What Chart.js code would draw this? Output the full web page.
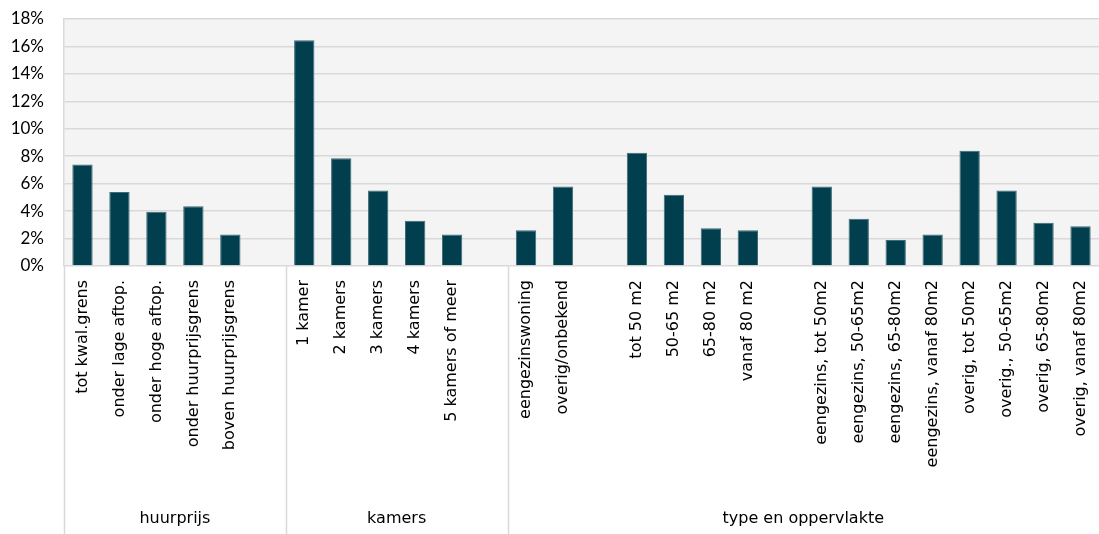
<!DOCTYPE html>
<html>
<head>
<meta charset="utf-8">
<script src="https://cdn.jsdelivr.net/npm/chart.js@4"></script>
<style>
  html, body { margin: 0; padding: 0; background: #fff; }
  #wrap { width: 1099px; height: 534px; }
</style>
</head>
<body>
<div id="wrap"><canvas id="chart"></canvas></div>
<script>
// categorieën (lege labels = ruimte tussen de blokken)
const categories = [
  'tot kwal.grens', 'onder lage aftop.', 'onder hoge aftop.', 'onder huurprijsgrens', 'boven huurprijsgrens', '',
  '1 kamer', '2 kamers', '3 kamers', '4 kamers', '5 kamers of meer', '',
  'eengezinswoning', 'overig/onbekend', '',
  'tot 50 m2', '50-65 m2', '65-80 m2', 'vanaf 80 m2', '',
  'eengezins, tot 50m2', 'eengezins, 50-65m2', 'eengezins, 65-80m2', 'eengezins, vanaf 80m2',
  'overig, tot 50m2', 'overig., 50-65m2', 'overig, 65-80m2', 'overig, vanaf 80m2'
];

// percentages per categorie
const values = [
  7.4, 5.4, 3.95, 4.35, 2.3, null,
  16.45, 7.85, 5.5, 3.3, 2.3, null,
  2.6, 5.8, null,
  8.25, 5.2, 2.75, 2.6, null,
  5.8, 3.45, 1.9, 2.3,
  8.4, 5.5, 3.15, 2.9
];

// groepen onder de as
const groupNames  = ['huurprijs', 'kamers', 'type en oppervlakte'];
const groupStarts = [0, 6, 12];
const groupSizes  = [6, 6, 16];

// y-as
const yMin = 0;
const yMax = 18;
const yStep = 2;

const FONT = 'Lato, "Noto Sans", sans-serif';
const LABEL_FONT = '"DejaVu Sans", sans-serif';

// grijze achtergrond van het plotvlak
const plotBackground = {
  id: 'plotBackground',
  beforeDraw(chart) {
    const { ctx, chartArea } = chart;
    ctx.save();
    ctx.fillStyle = '#f4f4f4';
    ctx.fillRect(chartArea.left, chartArea.top, chartArea.right - chartArea.left, chartArea.bottom - chartArea.top);
    ctx.restore();
  }
};

// scheidingslijnen en groepsnamen onder de x-as
const groupAxis = {
  id: 'groupAxis',
  afterDraw(chart) {
    const { ctx, chartArea } = chart;
    const catW = (chartArea.right - chartArea.left) / categories.length;
    ctx.save();
    ctx.strokeStyle = '#d9d9d9';
    ctx.lineWidth = 1.5;
    ctx.fillStyle = '#000';
    ctx.font = '16px ' + LABEL_FONT;
    ctx.textAlign = 'center';
    ctx.textBaseline = 'middle';
    groupNames.forEach(function (name, i) {
      const left = chartArea.left + groupStarts[i] * catW;
      const right = left + groupSizes[i] * catW;
      ctx.beginPath();
      ctx.moveTo(Math.round(left) + 0.5, chartArea.bottom);
      ctx.lineTo(Math.round(left) + 0.5, chart.height);
      ctx.stroke();
      ctx.fillText(name, (left + right) / 2, 519);
    });
    ctx.restore();
  }
};

new Chart(document.getElementById('chart'), {
  type: 'bar',
  data: {
    labels: categories,
    datasets: [{
      data: values,
      backgroundColor: '#023f4e',
      borderColor: '#3d6b77',
      borderWidth: 1,
      barPercentage: 0.55,
      categoryPercentage: 1
    }]
  },
  options: {
    responsive: true,
    maintainAspectRatio: false,
    animation: false,
    layout: { padding: { top: 19, right: 0, left: 0, bottom: 0 } },
    plugins: {
      legend: { display: false },
      tooltip: { enabled: false }
    },
    scales: {
      x: {
        grid: { display: false, drawTicks: false },
        border: { display: false },
        afterFit(scale) {
          scale.height = 268;
          scale.paddingLeft = 0;
          scale.paddingRight = 0;
        },
        ticks: {
          autoSkip: false,
          minRotation: 90,
          maxRotation: 90,
          padding: 14,
          color: '#000',
          font: { family: LABEL_FONT, size: 16 }
        }
      },
      y: {
        min: yMin,
        max: yMax,
        afterFit(scale) {
          scale.width = 64;
          scale.paddingTop = 0;
          scale.paddingBottom = 0;
        },
        grid: { color: '#d9d9d9', lineWidth: 1.5, drawTicks: false },
        border: { display: true, color: '#d9d9d9', width: 1.5 },
        ticks: {
          stepSize: yStep,
          padding: 20,
          color: '#000',
          font: { family: FONT, size: 17 },
          callback: function (v) { return v + '%'; }
        }
      }
    }
  },
  plugins: [plotBackground, groupAxis]
});
</script>
</body>
</html>
